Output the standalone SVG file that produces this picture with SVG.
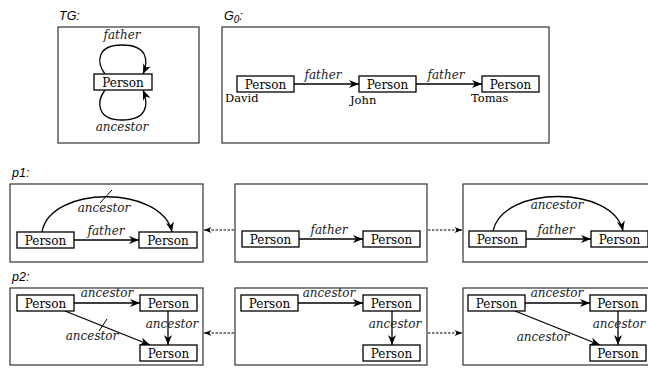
<svg xmlns="http://www.w3.org/2000/svg" width="648" height="368" viewBox="0 0 648 368">
  <defs>
    <marker id="arrow" viewBox="0 0 10 8" refX="10" refY="4" markerWidth="10" markerHeight="8" markerUnits="userSpaceOnUse" orient="auto">
      <path d="M0,0 L10,4 L0,8 L3,4 z" fill="#000"/>
    </marker>
    <marker id="arrow-small" viewBox="0 0 10 8" refX="10" refY="4" markerWidth="8" markerHeight="6" markerUnits="userSpaceOnUse" orient="auto">
      <path d="M0,0 L10,4 L0,8 L3,4 z" fill="#000"/>
    </marker>
  </defs>
  <style>
    .frame { fill: #fff; stroke: #333; stroke-width: 1.2; }
    .node rect { fill: #fff; stroke: #000; stroke-width: 1.3; }
    .node text { font-family: "DejaVu Serif", serif; font-size: 12px; text-anchor: middle; fill: #000; }
    .title { font-family: "Liberation Sans", Arial, sans-serif; font-style: italic; font-size: 12.5px; fill: #000; }
    .edge { fill: none; stroke: #000; stroke-width: 1.3; marker-end: url(#arrow); }
    .strike { fill: none; stroke: #000; stroke-width: 1; }
    .dash { fill: none; stroke: #000; stroke-width: 1; stroke-dasharray: 2.5 1.5; marker-end: url(#arrow-small); }
    .elabel { font-family: "DejaVu Serif", serif; font-style: italic; font-size: 12px; text-anchor: middle; fill: #222; }
    .name { font-family: "DejaVu Serif", serif; font-size: 11.5px; fill: #000; }
  </style>

  <!-- panel titles -->
  <text class="title" x="59" y="20">TG:</text>
  <text class="title" x="224" y="20">G<tspan font-size="10px" dy="3">0</tspan><tspan dy="-3">:</tspan></text>
  <text class="title" x="12" y="177">p1:</text>
  <text class="title" x="12" y="281">p2:</text>

  <!-- panel frames -->
  <g id="frames">
    <rect class="frame" x="58" y="27" width="141" height="116"/>
    <rect class="frame" x="222" y="27" width="327" height="116"/>
    <rect class="frame" x="10" y="184" width="193" height="78"/>
    <rect class="frame" x="235" y="184" width="192" height="78"/>
    <rect class="frame" x="463" y="184" width="200" height="78"/>
    <rect class="frame" x="10" y="288" width="193" height="77"/>
    <rect class="frame" x="235" y="288" width="192" height="77"/>
    <rect class="frame" x="463" y="288" width="200" height="77"/>
  </g>

  <!-- connectors -->
  <g id="connectors">
    <!-- TG self loops -->
    <path class="edge" d="M105,74 C96,62 97,45 122,45 C147,45 149,60 143,74"/>
    <path class="edge" d="M105,90 C96,102 97,120 122,120 C147,120 149,105 143,90"/>
    <!-- G0 -->
    <path class="edge" d="M294,84 L359,84"/>
    <path class="edge" d="M416,84 L482,84"/>
    <!-- p1 left -->
    <path class="edge" d="M74,240 L139,240"/>
    <path class="edge" d="M42,232 C50,185 162,185 172,232"/>
    <path class="strike" d="M100,203 L112,190"/>
    <!-- p1 middle -->
    <path class="edge" d="M299,239 L363,239"/>
    <!-- p1 right -->
    <path class="edge" d="M526,239 L591,239"/>
    <path class="edge" d="M493,231 C503,185 613,185 623,231"/>
    <!-- p2 left -->
    <path class="edge" d="M74,303 L140,303"/>
    <path class="edge" d="M168,311 L168,345"/>
    <path class="edge" d="M65,311 L150,345"/>
    <path class="strike" d="M99,331 L107,319"/>
    <!-- p2 middle -->
    <path class="edge" d="M298,303 L363,303"/>
    <path class="edge" d="M392,311 L392,345"/>
    <!-- p2 right -->
    <path class="edge" d="M525,303 L590,303"/>
    <path class="edge" d="M618,311 L618,345"/>
    <path class="edge" d="M515,311 L600,345"/>
    <!-- dashed relations between panels -->
    <path class="dash" d="M234,230 L204,230"/>
    <path class="dash" d="M428,230 L462,230"/>
    <path class="dash" d="M234,333 L204,333"/>
    <path class="dash" d="M428,333 L462,333"/>
  </g>

  <!-- edge labels -->
  <g id="edge-labels">
    <text class="elabel" x="122" y="39">father</text>
    <text class="elabel" x="122" y="131">ancestor</text>
    <text class="elabel" x="323" y="79">father</text>
    <text class="elabel" x="446" y="79">father</text>
    <text class="elabel" x="106" y="235">father</text>
    <text class="elabel" x="104" y="212">ancestor</text>
    <text class="elabel" x="329" y="234">father</text>
    <text class="elabel" x="556" y="234">father</text>
    <text class="elabel" x="557" y="209">ancestor</text>
    <text class="elabel" x="107" y="297">ancestor</text>
    <text class="elabel" x="172" y="328">ancestor</text>
    <text class="elabel" x="92" y="340">ancestor</text>
    <text class="elabel" x="329" y="297">ancestor</text>
    <text class="elabel" x="395" y="328">ancestor</text>
    <text class="elabel" x="557" y="297">ancestor</text>
    <text class="elabel" x="619" y="328">ancestor</text>
    <text class="elabel" x="543" y="341">ancestor</text>
  </g>

  <!-- TG -->
  <g id="tg-person" class="node"><rect x="94" y="74" width="58" height="16"/><text x="123" y="86.5">Person</text></g>

  <!-- G0 -->
  <g id="g0-david" class="node"><rect x="237" y="76" width="57" height="16"/><text x="265.5" y="88.5">Person</text></g>
  <g id="g0-john" class="node"><rect x="359" y="76" width="57" height="16"/><text x="387.5" y="88.5">Person</text></g>
  <g id="g0-tomas" class="node"><rect x="482" y="76" width="57" height="16"/><text x="510.5" y="88.5">Person</text></g>
  <text class="name" x="225" y="102">David</text>
  <text class="name" x="350" y="104">John</text>
  <text class="name" x="471" y="102">Tomas</text>

  <!-- p1 -->
  <g id="p1-left-a" class="node"><rect x="17" y="232" width="57" height="16"/><text x="45.5" y="244.5">Person</text></g>
  <g id="p1-left-b" class="node"><rect x="139" y="232" width="58" height="16"/><text x="168" y="244.5">Person</text></g>
  <g id="p1-mid-a" class="node"><rect x="242" y="231" width="57" height="16"/><text x="270.5" y="243.5">Person</text></g>
  <g id="p1-mid-b" class="node"><rect x="363" y="231" width="57" height="16"/><text x="391.5" y="243.5">Person</text></g>
  <g id="p1-right-a" class="node"><rect x="469" y="231" width="57" height="16"/><text x="497.5" y="243.5">Person</text></g>
  <g id="p1-right-b" class="node"><rect x="591" y="231" width="57" height="16"/><text x="619.5" y="243.5">Person</text></g>

  <!-- p2 -->
  <g id="p2-left-a" class="node"><rect x="17" y="295" width="57" height="16"/><text x="45.5" y="307.5">Person</text></g>
  <g id="p2-left-b" class="node"><rect x="140" y="295" width="57" height="16"/><text x="168.5" y="307.5">Person</text></g>
  <g id="p2-left-c" class="node"><rect x="140" y="345" width="57" height="16"/><text x="168.5" y="357.5">Person</text></g>
  <g id="p2-mid-a" class="node"><rect x="241" y="295" width="57" height="16"/><text x="269.5" y="307.5">Person</text></g>
  <g id="p2-mid-b" class="node"><rect x="363" y="295" width="57" height="16"/><text x="391.5" y="307.5">Person</text></g>
  <g id="p2-mid-c" class="node"><rect x="363" y="345" width="57" height="16"/><text x="391.5" y="357.5">Person</text></g>
  <g id="p2-right-a" class="node"><rect x="468" y="295" width="57" height="16"/><text x="496.5" y="307.5">Person</text></g>
  <g id="p2-right-b" class="node"><rect x="590" y="295" width="56" height="16"/><text x="618" y="307.5">Person</text></g>
  <g id="p2-right-c" class="node"><rect x="590" y="345" width="56" height="16"/><text x="618" y="357.5">Person</text></g>
</svg>
